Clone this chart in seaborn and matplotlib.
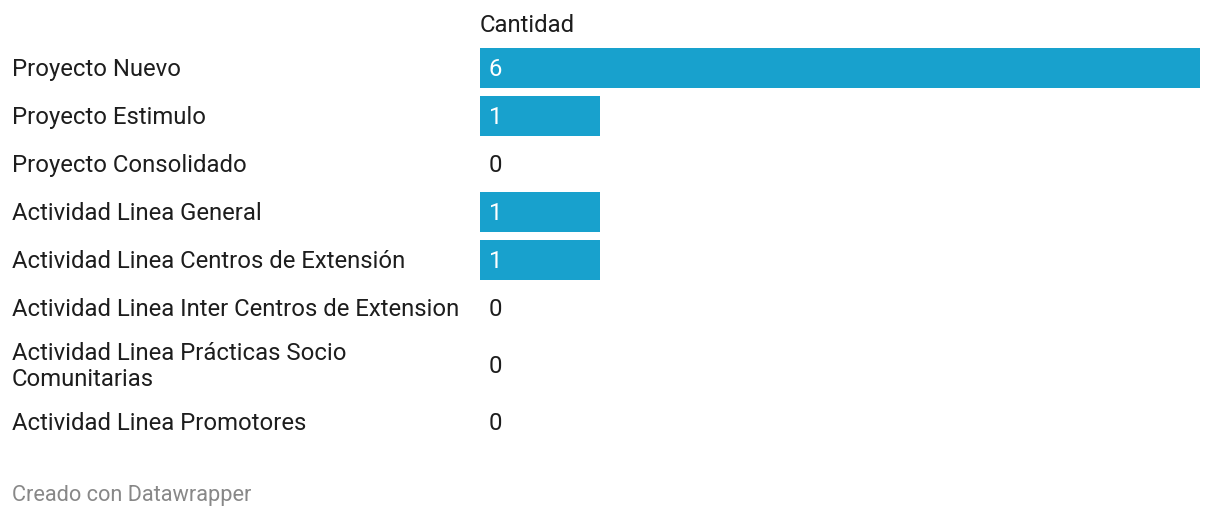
import matplotlib
matplotlib.use("Agg")
import matplotlib.pyplot as plt
import seaborn as sns
import pandas as pd
import numpy as np

categories = [
    "Proyecto Nuevo",
    "Proyecto Estimulo",
    "Proyecto Consolidado",
    "Actividad Linea General",
    "Actividad Linea Centros de Extensión",
    "Actividad Linea Inter Centros de Extension",
    "Actividad Linea Prácticas Socio\nComunitarias",
    "Actividad Linea Promotores",
]
values = [6, 1, 0, 1, 1, 0, 0, 0]
column_title = "Cantidad"
footer = "Creado con Datawrapper"

sns.set_theme(style="white")
plt.rcParams["font.family"] = ["Roboto", "DejaVu Sans"]

W, H = 1220, 518
fig = plt.figure(figsize=(W / 100, H / 100), dpi=100)

# layout in pixels: row band heights depend on number of label lines
row_h, extra_line, top = 48, 18, 44
centers = []
y = top
for c in categories:
    h = row_h + extra_line * (c.count("\n"))
    centers.append(y + h / 2)
    y += h

df = pd.DataFrame({"cat": categories, "val": values, "pos": centers})

left_px, right_px = 480, 1200
ax = fig.add_axes([left_px / W, 0, (right_px - left_px) / W, 1])
sns.barplot(data=df, x="val", y="pos", orient="h", native_scale=True,
            color="#18a1cd", saturation=1, width=40 / 48, ax=ax, errorbar=None,
            linewidth=0)
ax.set_xlim(0, max(values))
ax.set_ylim(H, 0)
ax.axis("off")

text_color = "#1d1d1d"
fs = 17.2
dy = 1.5
for c, v, p in zip(categories, values, centers):
    fig.text(12 / W, 1 - (p + dy) / H, c, ha="left", va="center", fontsize=fs,
             color=text_color, linespacing=1.22)
    ax.text(9 / 120, p + dy, str(v), ha="left", va="center", fontsize=fs,
            color="white" if v > 0 else text_color)

fig.text(left_px / W, 1 - (24 + dy) / H, column_title, ha="left", va="center",
         fontsize=fs, color=text_color)
fig.text(12 / W, 1 - (494 + dy) / H, footer, ha="left", va="center",
         fontsize=15.7, color="#888888")

fig.savefig("out.png", dpi=100)
